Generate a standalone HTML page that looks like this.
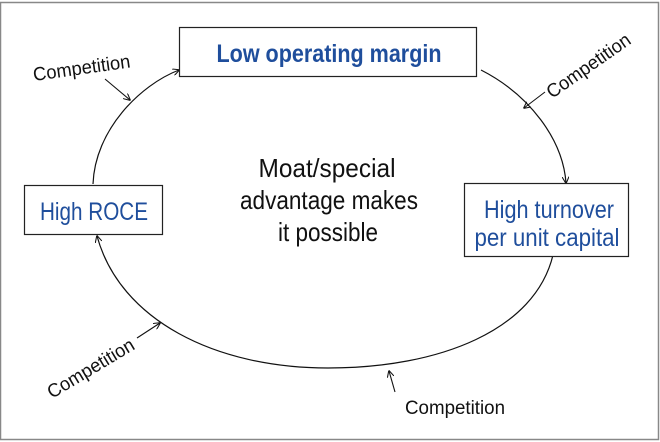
<!DOCTYPE html>
<html><head><meta charset="utf-8"><style>
html,body{margin:0;padding:0;background:#fff;}
svg{display:block;}
text{font-family:"Liberation Sans Narrow","Liberation Sans",sans-serif;}
</style></head><body>
<svg width="660" height="442" viewBox="0 0 660 442" xmlns="http://www.w3.org/2000/svg">
<defs>
<marker id="a" viewBox="0 0 10 10" refX="9" refY="5" markerWidth="7" markerHeight="7" orient="auto-start-reverse" markerUnits="userSpaceOnUse">
<path d="M0,0 L10,5 L0,10" fill="none" stroke="#111" stroke-width="1.5"/>
</marker>
</defs>
<rect x="0.5" y="2.5" width="658" height="437" fill="#fff" stroke="#888" stroke-width="1.5"/>
<path d="M93,184 C95,130 140,85 179,70" fill="none" stroke="#111" stroke-width="1.2" marker-end="url(#a)"/>
<path d="M481,70 C530,95 563,140 566,183" fill="none" stroke="#111" stroke-width="1.2" marker-end="url(#a)"/>
<path d="M553,255 C535,330 440,368 328,368 C215,368 120,320 97,236" fill="none" stroke="#111" stroke-width="1.2" marker-end="url(#a)"/>
<rect x="179.5" y="27.5" width="297" height="49" fill="#fff" stroke="#222" stroke-width="1.2"/>
<rect x="24.5" y="185.5" width="138" height="49" fill="#fff" stroke="#222" stroke-width="1.2"/>
<rect x="464.5" y="183.5" width="164" height="73" fill="#fff" stroke="#222" stroke-width="1.2"/>
<g fill="#1f4e9c" font-size="25" font-weight="bold" text-anchor="middle">
<text x="329" y="62" textLength="225" lengthAdjust="spacingAndGlyphs">Low operating margin</text>
</g>
<g fill="#1f4e9c" font-size="25" text-anchor="middle">
<text x="94" y="220" textLength="108" lengthAdjust="spacingAndGlyphs">High ROCE</text>
<text x="549" y="218" textLength="130" lengthAdjust="spacingAndGlyphs">High turnover</text>
<text x="547" y="246" textLength="145" lengthAdjust="spacingAndGlyphs">per unit capital</text>
</g>
<g fill="#111" font-size="26" text-anchor="middle">
<text x="327" y="177" textLength="137" lengthAdjust="spacingAndGlyphs">Moat/special</text>
<text x="329" y="209" textLength="178" lengthAdjust="spacingAndGlyphs">advantage makes</text>
<text x="328" y="241" textLength="100" lengthAdjust="spacingAndGlyphs">it possible</text>
</g>
<g fill="#111" font-size="19">
<text transform="translate(34,81) rotate(-8)" textLength="98" lengthAdjust="spacingAndGlyphs">Competition</text>
<text transform="translate(552,99) rotate(-35)" textLength="98" lengthAdjust="spacingAndGlyphs">Competition</text>
<text transform="translate(52,399) rotate(-31)" textLength="98" lengthAdjust="spacingAndGlyphs">Competition</text>
<text x="405" y="414" textLength="100" lengthAdjust="spacingAndGlyphs">Competition</text>
</g>
<g stroke="#111" stroke-width="1.1" fill="none">
<path d="M105,79 L130,100" marker-end="url(#a)"/>
<path d="M545,92 L524,108" marker-end="url(#a)"/>
<path d="M137,338 L160,323" marker-end="url(#a)"/>
<path d="M395,392 L389,371" marker-end="url(#a)"/>
</g>
</svg>
</body></html>
